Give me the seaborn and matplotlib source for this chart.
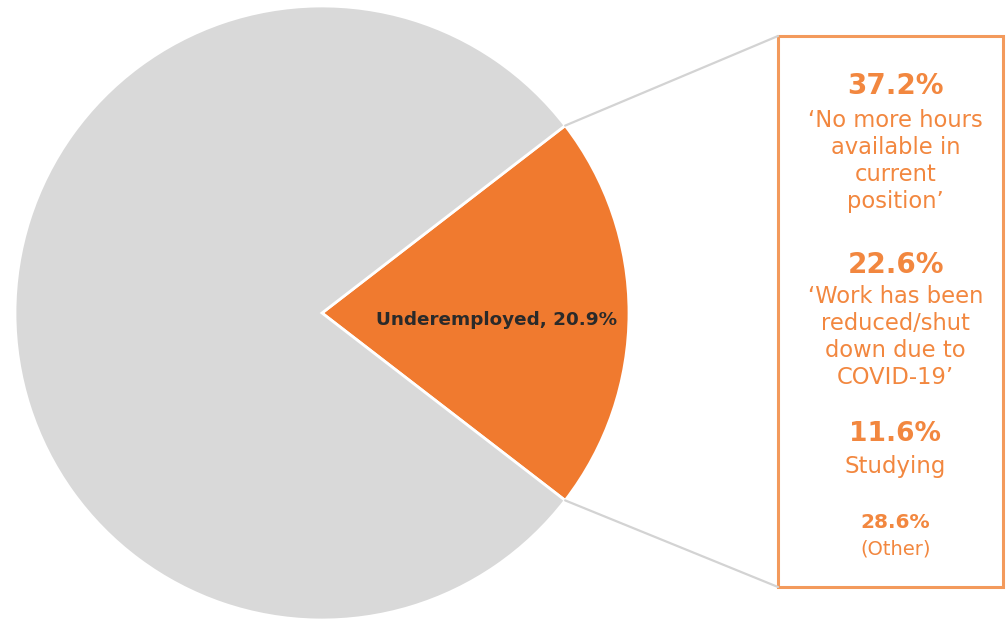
import matplotlib
matplotlib.use("Agg")
import matplotlib.pyplot as plt
import seaborn as sns
from matplotlib.patches import Rectangle
import numpy as np

# Data
categories = ["Underemployed", "Other"]
shares = [20.9, 79.1]
reason_values = ["37.2%", "22.6%", "11.6%", "28.6%"]
reason_labels = ["\u2018No more hours\navailable in\ncurrent\nposition\u2019",
                 "\u2018Work has been\nreduced/shut\ndown due to\nCOVID-19\u2019",
                 "Studying",
                 "(Other)"]

sns.set_theme(style="white")
plt.rcParams['font.family'] = ['DejaVu Sans']

ORANGE = "#F07A2F"
TEXT_OR = "#F2873F"
GREY = "#D9D9D9"

fig = plt.figure(figsize=(10.07, 6.21), dpi=100)
ax = fig.add_axes([0, 0, 1, 1])

cx, cy, r = 322, 313, 307
half = shares[0] / 100 * 360 / 2
wedges, _ = ax.pie(shares, colors=[ORANGE, GREY], startangle=-half, counterclock=True,
                   center=(cx, cy), radius=r,
                   wedgeprops=dict(edgecolor="white", linewidth=2.0))
ax.set_xlim(0, 1007)
ax.set_ylim(621, 0)
ax.set_aspect('equal')
ax.axis('off')

ax.text(cx + 0.57 * r, cy + 7, f"{categories[0]}, {shares[0]}%", ha="center", va="center",
        fontsize=13.2, fontweight="bold", color="#2a2a2a")

# Callout box
bx0, by0, bx1, by1 = 778, 36, 1003, 587
ax.add_patch(Rectangle((bx0, by0), bx1 - bx0, by1 - by0, fill=False,
                       edgecolor="#F39A5C", linewidth=2.2))
th = np.deg2rad(half)
ax.plot([cx + r * np.cos(th), bx0], [cy - r * np.sin(th), by0], color="#D3D3D3", lw=1.6)
ax.plot([cx + r * np.cos(th), bx0], [cy + r * np.sin(th), by1], color="#D3D3D3", lw=1.6)

xc = (bx0 + bx1) / 2 + 5
ax.text(xc, 86, reason_values[0], ha="center", va="center", fontsize=20, fontweight="bold", color=TEXT_OR)
ax.text(xc, 161, reason_labels[0], ha="center", va="center", fontsize=16.3, color=TEXT_OR, linespacing=1.22)
ax.text(xc, 265, reason_values[1], ha="center", va="center", fontsize=20, fontweight="bold", color=TEXT_OR)
ax.text(xc, 337, reason_labels[1], ha="center", va="center", fontsize=16.3, color=TEXT_OR, linespacing=1.22)
ax.text(xc, 434, reason_values[2], ha="center", va="center", fontsize=19, fontweight="bold", color=TEXT_OR)
ax.text(xc, 467, reason_labels[2], ha="center", va="center", fontsize=16.5, color=TEXT_OR)
ax.text(xc, 523, reason_values[3], ha="center", va="center", fontsize=14.5, fontweight="bold", color=TEXT_OR)
ax.text(xc, 549, reason_labels[3], ha="center", va="center", fontsize=14, color=TEXT_OR)

fig.savefig("out.png", dpi=100)
